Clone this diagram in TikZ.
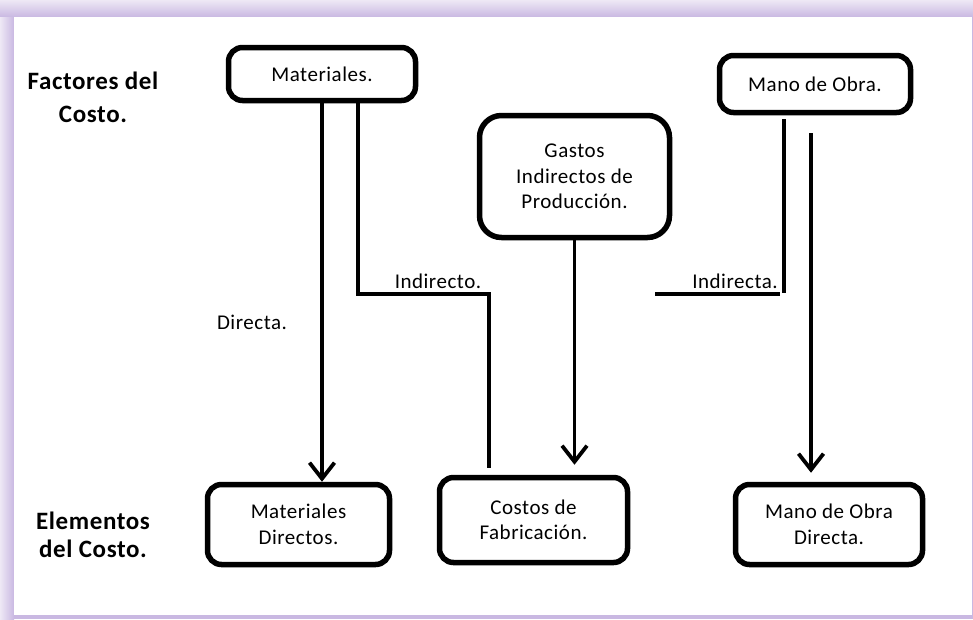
\documentclass[tikz,border=0pt]{standalone}
\usepackage{fontspec}
\setmainfont{Carlito}[LetterSpace=2.5]
\usetikzlibrary{arrows.meta,calc}
\definecolor{framepurple}{HTML}{C9B8E2}
\definecolor{framelight}{HTML}{EEE8F5}

\begin{document}
\begin{tikzpicture}[x=1pt,y=-1pt,
    box/.style={draw, line width=5.5pt, rounded corners=14pt, inner sep=0pt,
      align=center, font=\fontsize{21}{25.5}\selectfont},
    lbl/.style={inner sep=0pt, align=center, font=\fontsize{21}{25.5}\selectfont},
    head/.style={inner sep=0pt, align=center, font=\bfseries\fontsize{25}{33}\selectfont},
    link/.style={line width=3.8pt},
    arrow/.style={link, -{Straight Barb[length=16pt,width=25pt]}}]
  % frame
    \useasboundingbox (0,0) rectangle (973,619);
    \fill[framepurple] (0,0) rectangle (973,619);
    \shade[top color=framelight, bottom color=framepurple] (0,0) rectangle (973,17);
    \shade[left color=framelight, right color=framepurple] (0,17) rectangle (14,619);
    \fill[white] (14,17) rectangle (972,615);
  % row titles
    \node[head] (fac) at (93,97) {Factores del\\Costo.};
    \node[head, font=\bfseries\fontsize{25}{28}\selectfont] (ele) at (93,535) {Elementos\\del Costo.};
  % factors
    \node[box, minimum width=187pt, minimum height=53pt] (mat) at (322,74) {Materiales.};
    \node[box, minimum width=191pt, minimum height=57pt] (mo) at (815,84) {Mano de Obra.};
    \node[box, rounded corners=22pt, minimum width=190pt, minimum height=122pt] (gip)
      at (574.5,176.5) {Gastos\\Indirectos de\\Producción.};
  % elements
    \node[box, minimum width=182pt, minimum height=80pt] (matdir) at (298.5,524.5) {Materiales\\Directos.};
    \node[box, minimum width=188pt, minimum height=85pt] (cost) at (533.5,520) {Costos de\\Fabricación.};
    \node[box, minimum width=187pt, minimum height=80pt] (mod) at (829,524.5) {Mano de Obra\\Directa.};
  % materials
    \draw[arrow] (mat.south) -- (mat.south |- matdir.north);
    \node[lbl] (dir) at (252,322) {Directa.};
    \coordinate (cornA) at (489,294);
    \draw[link] ([xshift=36pt]mat.south) |- (cornA) -- ([yshift=7pt]cornA |- cost.north);
    \node[lbl] (indo) at (438,281) {Indirecto.};
  % overhead
    \draw[arrow] (gip.south) -- ([yshift=10pt]gip.south |- cost.north);
  % labour
    \coordinate (cornB) at (784,294);
    \coordinate (cornC) at (655,294);
    \draw[link] ([xshift=-31pt,yshift=-4pt]mo.south) -- ([yshift=1pt]cornB);
    \draw[link] ([xshift=-4pt]cornB) -- (cornC);
    \node[lbl] (inda) at (735,281) {Indirecta.};
    \draw[arrow] ([xshift=-4pt,yshift=-18pt]mo.south) -- ([xshift=-4pt,yshift=9pt]mo.south |- mod.north);
\end{tikzpicture}
\end{document}
